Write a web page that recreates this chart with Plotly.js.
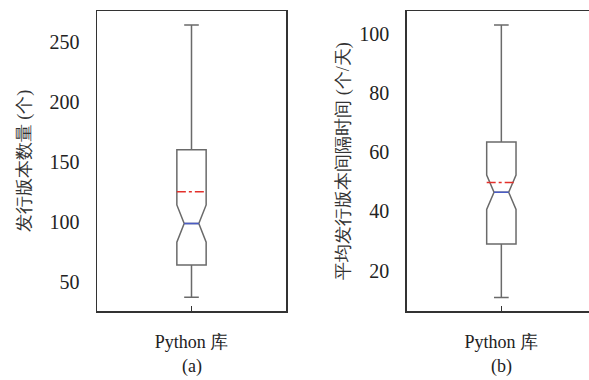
<!DOCTYPE html>
<html>
<head>
<meta charset="utf-8">
<script src="https://cdn.plot.ly/plotly-3.0.1.min.js"></script>
<style>html,body{margin:0;padding:0;overflow:hidden;background:#fff;}</style>
</head>
<body>
<div id="chart"></div>
<script>
// ---- data ----
const category = ['Python 库'];
const panelLabels = ['(a)', '(b)'];
const yTitles = ['发行版本数量 (个)', '平均发行版本间隔时间 (个/天)'];
// panel (a): number of releases
const relLower = [37];
const relQ1 = [64];
const relMedian = [98.5];
const relQ3 = [160];
const relUpper = [264];
const relNotch = [15.5];
const relMean = [125];
// panel (b): average release interval
const intLower = [11];
const intQ1 = [29];
const intMedian = [46.5];
const intQ3 = [63.5];
const intUpper = [103];
const intNotch = [5.8];
const intMean = [49.8];

// ---- styles ----
const FONT = 'Liberation Serif';
const BOX_W = 0.155;
const LINE_C = '#6a6a6a';
const FRAME_C = '#333333';
const RANGE_A = [25.6, 275.6];
const RANGE_B = [6.4, 107.7];

function boxTrace(xa, ya, lo, q1, med, q3, hi, notch) {
  return {
    type: 'box', xaxis: xa, yaxis: ya, x: category,
    lowerfence: lo, q1: q1, median: med, q3: q3, upperfence: hi,
    notched: true, notchspan: notch, notchwidth: 0.25,
    width: BOX_W, whiskerwidth: 0.5, boxpoints: false,
    fillcolor: 'rgba(255,255,255,0)',
    line: {color: LINE_C, width: 1.5},
    hoverinfo: 'skip', showlegend: false
  };
}

const traces = [
  boxTrace('x', 'y', relLower, relQ1, relMedian, relQ3, relUpper, relNotch),
  boxTrace('x2', 'y2', intLower, intQ1, intMedian, intQ3, intUpper, intNotch)
];

function overlay(xref, yref, med, mean) {
  return [
    {type: 'line', xref: xref, yref: yref, layer: 'above',
     x0: -BOX_W / 4, x1: BOX_W / 4, y0: med[0], y1: med[0],
     line: {color: '#4a5cc4', width: 1.6}},
    {type: 'line', xref: xref, yref: yref, layer: 'above',
     x0: -BOX_W / 2, x1: BOX_W / 2, y0: mean[0], y1: mean[0],
     line: {color: '#e3302b', width: 1.5, dash: 'dashdot'}}
  ];
}

function xax(domain, anchor) {
  return {
    domain: domain, anchor: anchor, type: 'category', range: [-0.5, 0.5],
    showline: true, mirror: true, linecolor: FRAME_C, linewidth: 1.5,
    ticks: 'inside', ticklen: 5, tickcolor: FRAME_C, tickwidth: 1.2,
    ticklabelstandoff: 14,
    showgrid: false, zeroline: false, fixedrange: true,
    tickfont: {family: FONT, size: 18, color: '#222'}
  };
}
// main y axes: labels pushed out by a transparent outside tick
function yax(anchor, range, dtick, title, standoff) {
  return {
    anchor: anchor, domain: [0, 1], range: range, dtick: dtick, tick0: 0,
    showline: true, mirror: true, linecolor: FRAME_C, linewidth: 1.5,
    ticks: 'outside', ticklen: 12, tickcolor: 'rgba(0,0,0,0)',
    showgrid: false, zeroline: false, fixedrange: true,
    tickfont: {family: FONT, size: 20, color: '#222'},
    title: {text: title, font: {family: FONT, size: 18, color: '#333'}, standoff: standoff}
  };
}
// overlay y axes: inside tick marks only
function yTicks(anchor, over, range, dtick) {
  return {
    anchor: anchor, overlaying: over, side: 'left', range: range, dtick: dtick, tick0: 0,
    showline: false, showgrid: false, zeroline: false, showticklabels: false,
    ticks: 'inside', ticklen: 5, tickcolor: FRAME_C, tickwidth: 1.2, fixedrange: true
  };
}

const layout = {
  width: 600, height: 380,
  font: {family: FONT, size: 18, color: '#222'},
  margin: {l: 0, r: 0, t: 11, b: 69},
  paper_bgcolor: '#fff', plot_bgcolor: '#fff',
  showlegend: false,
  xaxis: xax([97 / 600, 286 / 600], 'y'),
  yaxis: yax('x', RANGE_A, 50, yTitles[0], 14),
  xaxis2: xax([406.7 / 600, 596 / 600], 'y2'),
  yaxis2: yax('x2', RANGE_B, 20, yTitles[1], 5),
  yaxis3: yTicks('x', 'y', RANGE_A, 50),
  yaxis4: yTicks('x2', 'y2', RANGE_B, 20),
  shapes: overlay('x', 'y', relMedian, relMean).concat(overlay('x2', 'y2', intMedian, intMean)),
  annotations: [
    {text: panelLabels[0], xref: 'paper', yref: 'paper', x: 191.5 / 600, y: -55 / 300,
     xanchor: 'center', yanchor: 'middle', showarrow: false,
     font: {family: FONT, size: 18, color: '#222'}},
    {text: panelLabels[1], xref: 'paper', yref: 'paper', x: 501.3 / 600, y: -55 / 300,
     xanchor: 'center', yanchor: 'middle', showarrow: false,
     font: {family: FONT, size: 18, color: '#222'}}
  ]
};

Plotly.newPlot('chart', traces, layout, {staticPlot: true, displayModeBar: false});
</script>
</body>
</html>
